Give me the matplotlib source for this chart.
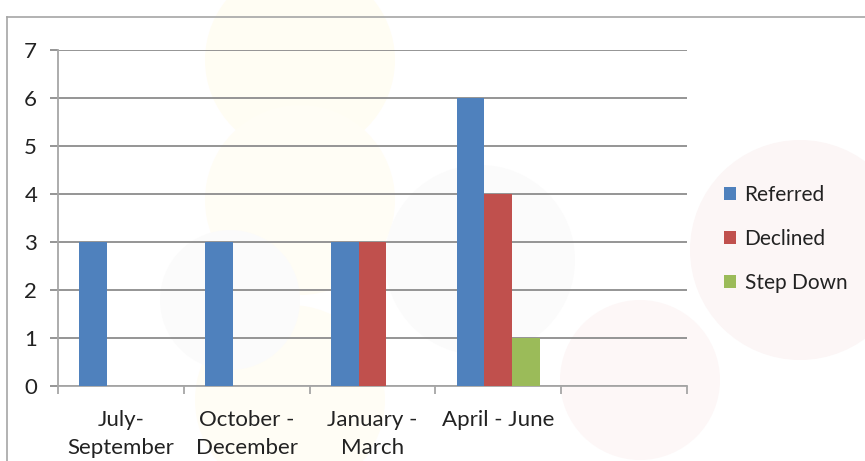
import matplotlib.pyplot as plt
import numpy as np
from matplotlib.patches import Circle

plt.rcParams['font.family'] = ['Lato', 'DejaVu Sans']

# Data
categories = ['July-\nSeptember', 'October -\nDecember', 'January -\nMarch', 'April - June', '']
series = ['Referred', 'Declined', 'Step Down']
referred = [3, 3, 3, 6, 0]
declined = [0, 0, 3, 4, 0]
step_down = [0, 0, 0, 1, 0]
colors = ['#4F81BD', '#C0504D', '#9BBB59']

fig = plt.figure(figsize=(8.65, 4.61), dpi=100)

# faint watermark blobs behind the chart (pixel coords)
bg = fig.add_axes([0, 0, 1, 1], zorder=-1)
bg.set_xlim(0, 865)
bg.set_ylim(461, 0)
bg.axis('off')
blobs = [((300, 60), 95, '#FFFDF3'), ((300, 200), 95, '#FFFDF5'), ((290, 400), 95, '#FFFDF5'),
         ((230, 300), 70, '#FBFBFB'), ((480, 260), 95, '#FBFBFB'),
         ((800, 250), 110, '#FCF6F6'), ((640, 380), 80, '#FDF7F7')]
for (cx, cy), r, c in blobs:
    bg.add_patch(Circle((cx, cy), r, facecolor=c, edgecolor='none'))

# outer border
grey = '#A6A6A6'
bg.plot([7, 7], [17, 461], color=grey, lw=1.2)
bg.plot([7, 865], [17, 17], color=grey, lw=1.2)

ax = fig.add_axes([58 / 865, 1 - 386 / 461, (687 - 58) / 865, (386 - 50) / 461])
ax.patch.set_alpha(0)

x = np.arange(len(categories))
w = 0.22
for i, (vals, c, name) in enumerate(zip([referred, declined, step_down], colors, series)):
    ax.bar(x + (i - 1) * w, vals, w, color=c, label=name, zorder=3)

ax.set_xlim(-0.5, len(categories) - 0.5)
ax.set_ylim(0, 7)
ax.set_yticks(range(0, 8))
ax.yaxis.grid(True, color='#8C8C8C', lw=1.3, zorder=1)
ax.set_xticks(np.arange(-0.5, len(categories)), minor=False)
ax.set_xticklabels([])
ax.set_xticks(x, minor=True)
ax.set_xticklabels(categories, minor=True, fontsize=16, color='#222222', linespacing=1.5)
ax.tick_params(axis='x', which='minor', length=0, pad=17)
ax.tick_params(axis='x', which='major', length=6, color=grey, width=1.3)
ax.tick_params(axis='y', length=6, color='#8C8C8C', width=1.3, labelsize=16, labelcolor='#222222', pad=9)
for s in ['top', 'right']:
    ax.spines[s].set_visible(False)
for s in ['left', 'bottom']:
    ax.spines[s].set_color(grey)
    ax.spines[s].set_linewidth(1.3)

fig.legend(loc='upper left', bbox_to_anchor=(705 / 865, 1 - 166 / 461), frameon=False,
           fontsize=15, handlelength=0.6, handleheight=0.6, handletextpad=0.4,
           labelspacing=1.15, labelcolor='#222222')

fig.savefig('out.png', dpi=100)
